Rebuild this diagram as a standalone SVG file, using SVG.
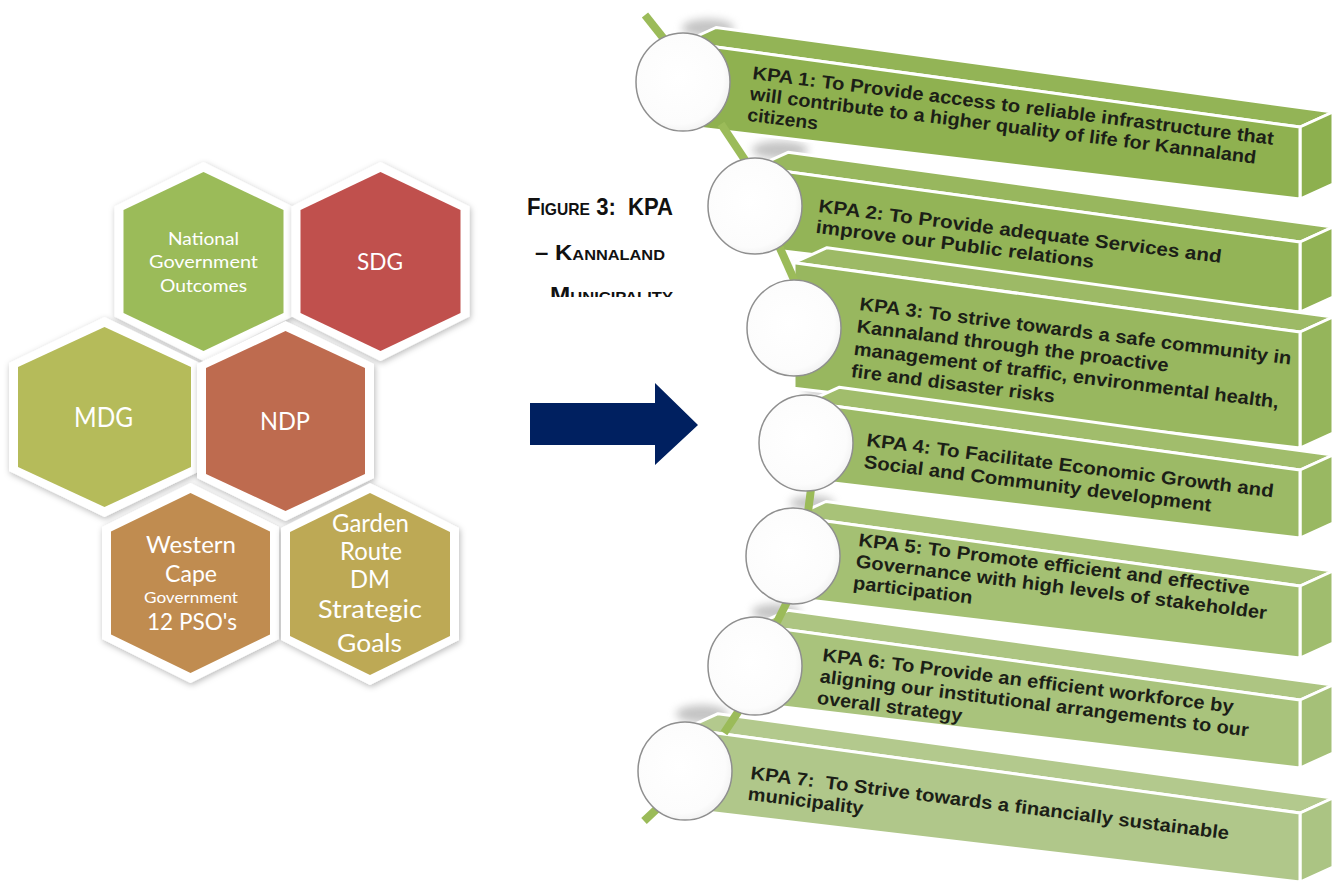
<svg xmlns="http://www.w3.org/2000/svg" width="1337" height="886" viewBox="0 0 1337 886">
<defs>
<style>
.rim{fill:#ffffff;filter:url(#hexShadow)}
.hx{font-family:Lato,"Open Sans",sans-serif;fill:#ffffff;text-anchor:middle}
.cap{font-family:"Liberation Sans",Arial,sans-serif;font-weight:bold;fill:#111111;white-space:pre;font-variant:small-caps}
.kt{font-family:"Liberation Sans",Arial,sans-serif;font-weight:bold;font-size:18.5px;fill:#1c1f17;white-space:pre}
.edge{stroke:#ffffff;stroke-width:3;stroke-linejoin:round}
.link{stroke:#9bbb59;stroke-width:8;fill:none}
.ring{fill:url(#ringGrad);stroke:#8f8f8f;stroke-width:1.5}
.shd{fill:#8a8a8a;opacity:0.5;filter:url(#blur4)}
</style>
<filter id="hexShadow" x="-20%" y="-20%" width="140%" height="140%">
<feDropShadow dx="1" dy="2" stdDeviation="3" flood-color="#000000" flood-opacity="0.28"/>
</filter>
<filter id="blur4" x="-50%" y="-100%" width="200%" height="300%">
<feGaussianBlur stdDeviation="4"/>
</filter>
<radialGradient id="ringGrad" cx="0.45" cy="0.45" r="0.6">
<stop offset="0" stop-color="#ffffff"/>
<stop offset="0.8" stop-color="#fcfcfc"/>
<stop offset="1" stop-color="#efefef"/>
</radialGradient>
<clipPath id="capClip"><rect x="530" y="270" width="170" height="27"/></clipPath>
</defs>
<rect x="0" y="0" width="1337" height="886" fill="#ffffff"/>

<!-- Hexagons -->
<g id="hex-national">
<polygon class="rim" points="203.5,162 292.5,206.5 292.5,316.5 203.5,361 114.5,316.5 114.5,206.5"/>
<polygon fill="#9bbb59" points="203.5,172 283.5,210 283.5,313 203.5,351 123.5,313 123.5,210"/>
<text class="hx" font-size="17.5" x="203.5" y="245" textLength="71" lengthAdjust="spacingAndGlyphs">National</text>
<text class="hx" font-size="17.5" x="203.5" y="268" textLength="109" lengthAdjust="spacingAndGlyphs">Government</text>
<text class="hx" font-size="17.5" x="203.5" y="292" textLength="87" lengthAdjust="spacingAndGlyphs">Outcomes</text>
</g>
<g id="hex-sdg">
<polygon class="rim" points="380.5,162 469.5,206.5 469.5,316.5 380.5,361 291.5,316.5 291.5,206.5"/>
<polygon fill="#c0504d" points="380.5,172 460.5,210 460.5,313 380.5,351 300.5,313 300.5,210"/>
<text class="hx" font-size="24" x="380" y="270" textLength="46" lengthAdjust="spacingAndGlyphs">SDG</text>
</g>
<g id="hex-mdg">
<polygon class="rim" points="104.5,317 200,363 200,471 104.5,517 9,471 9,363"/>
<polygon fill="#b5bb5a" points="104.5,327 191,367 191,467 104.5,507 18,467 18,367"/>
<text class="hx" font-size="26" x="103.5" y="427" textLength="59" lengthAdjust="spacingAndGlyphs">MDG</text>
</g>
<g id="hex-ndp">
<polygon class="rim" points="285.5,321 374,364 374,478 285.5,521 197,478 197,364"/>
<polygon fill="#be6b4f" points="285.5,331 365,368 365,474 285.5,511 206,474 206,368"/>
<text class="hx" font-size="25" x="285" y="430" textLength="50" lengthAdjust="spacingAndGlyphs">NDP</text>
</g>
<g id="hex-western-cape">
<polygon class="rim" points="190.5,483 279,527 279,639 190.5,683 102,639 102,527"/>
<polygon fill="#c08c50" points="190.5,493 270,531.5 270,634.5 190.5,673 111,634.5 111,531.5"/>
<text class="hx" font-size="23" x="191" y="553" textLength="90" lengthAdjust="spacingAndGlyphs">Western</text>
<text class="hx" font-size="23" x="191" y="582" textLength="52" lengthAdjust="spacingAndGlyphs">Cape</text>
<text class="hx" font-size="15" x="191" y="603" textLength="94" lengthAdjust="spacingAndGlyphs">Government</text>
<text class="hx" font-size="23" x="192" y="630" textLength="90" lengthAdjust="spacingAndGlyphs">12 PSO's</text>
</g>
<g id="hex-garden-route">
<polygon class="rim" points="370,483 459,528 459,640 370,685 281,640 281,528"/>
<polygon fill="#bda955" points="370,493 450,532 450,636 370,675 290,636 290,532"/>
<text class="hx" font-size="25" x="370.5" y="532" textLength="77" lengthAdjust="spacingAndGlyphs">Garden</text>
<text class="hx" font-size="25" x="371" y="560" textLength="62" lengthAdjust="spacingAndGlyphs">Route</text>
<text class="hx" font-size="25" x="370" y="588" textLength="40" lengthAdjust="spacingAndGlyphs">DM</text>
<text class="hx" font-size="25" x="370" y="618" textLength="104" lengthAdjust="spacingAndGlyphs">Strategic</text>
<text class="hx" font-size="25" x="369.5" y="652" textLength="65" lengthAdjust="spacingAndGlyphs">Goals</text>
</g>

<!-- Caption -->
<g id="caption">
<text class="cap" x="527" y="215" font-size="24" textLength="146" lengthAdjust="spacingAndGlyphs">Figure 3:  KPA</text>
<text class="cap" x="535" y="260" font-size="22" textLength="130" lengthAdjust="spacingAndGlyphs">– Kannaland</text>
<g clip-path="url(#capClip)">
<text class="cap" x="550" y="302" font-size="22" textLength="123" lengthAdjust="spacingAndGlyphs">Municipality</text>
</g>
</g>

<!-- Arrow -->
<g id="arrow">
<polygon fill="#002060" points="530,403 655,403 655,383 698,425 655,465 655,445 530,445"/>
</g>

<!-- circle shadows -->
<g id="circle-shadows">
<ellipse class="shd" cx="708" cy="28" rx="26" ry="9"/>
<ellipse class="shd" cx="780" cy="150" rx="28" ry="9"/>
<ellipse class="shd" cx="815" cy="272" rx="24" ry="8"/>
<ellipse class="shd" cx="826" cy="389" rx="22" ry="7"/>
<ellipse class="shd" cx="812" cy="503" rx="22" ry="7"/>
<ellipse class="shd" cx="776" cy="612" rx="24" ry="8"/>
<ellipse class="shd" cx="702" cy="714" rx="26" ry="9"/>
</g>

<!-- KPA banners -->
<g id="kpa-1">
<polygon class="edge" fill="#93b456" points="683,42.5 1300,127 1333,112 716,27.5"/>
<polygon class="edge" fill="#8db04f" points="1300,127 1333,112 1333,184 1300,199"/>
<polygon class="edge" fill="#8fb150" points="683,42.5 1300,127 1300,199 683,126.2"/>
<g transform="translate(752,79) rotate(7.2)">
<text class="kt" x="0" y="0" textLength="525" lengthAdjust="spacingAndGlyphs">KPA 1: To Provide access to reliable infrastructure that</text>
<text class="kt" x="0" y="21" textLength="510" lengthAdjust="spacingAndGlyphs">will contribute to a higher quality of life for Kannaland</text>
<text class="kt" x="0" y="42" textLength="71" lengthAdjust="spacingAndGlyphs">citizens</text>
</g>
</g>
<g id="kpa-2">
<polygon class="edge" fill="#98b75e" points="755,167.3 1300,242 1333,227 788,152.3"/>
<polygon class="edge" fill="#91b254" points="1300,242 1333,227 1333,297 1300,312"/>
<polygon class="edge" fill="#93b457" points="755,167.3 1300,242 1300,312 755,247.7"/>
<g transform="translate(818,212) rotate(7.2)">
<text class="kt" x="0" y="0" textLength="406" lengthAdjust="spacingAndGlyphs">KPA 2: To Provide adequate Services and</text>
<text class="kt" x="0" y="21" textLength="280" lengthAdjust="spacingAndGlyphs">improve our Public relations</text>
</g>
</g>
<g id="kpa-3">
<polygon class="edge" fill="#9dba66" points="794,262.7 1300,332 1333,317 827,247.7"/>
<polygon class="edge" fill="#95b55b" points="1300,332 1333,317 1333,433 1300,448"/>
<polygon class="edge" fill="#98b75f" points="794,262.7 1300,332 1300,448 794,388.3"/>
<g transform="translate(859,310) rotate(7.2)">
<text class="kt" x="0" y="0" textLength="435" lengthAdjust="spacingAndGlyphs">KPA 3: To strive towards a safe community in</text>
<text class="kt" x="0" y="22.5" textLength="314" lengthAdjust="spacingAndGlyphs">Kannaland through the proactive</text>
<text class="kt" x="0" y="45" textLength="428" lengthAdjust="spacingAndGlyphs">management of traffic, environmental health,</text>
<text class="kt" x="0" y="67.5" textLength="205" lengthAdjust="spacingAndGlyphs">fire and disaster risks</text>
</g>
</g>
<g id="kpa-4">
<polygon class="edge" fill="#a1bd6c" points="806,402.3 1300,470 1333,455 839,387.3"/>
<polygon class="edge" fill="#99b862" points="1300,470 1333,455 1333,523 1300,538"/>
<polygon class="edge" fill="#9cba66" points="806,402.3 1300,470 1300,538 806,479.7"/>
<g transform="translate(866,446) rotate(7.2)">
<text class="kt" x="0" y="0" textLength="410" lengthAdjust="spacingAndGlyphs">KPA 4: To Facilitate Economic Growth and</text>
<text class="kt" x="0" y="22" textLength="350" lengthAdjust="spacingAndGlyphs">Social and Community development</text>
</g>
</g>
<g id="kpa-5">
<polygon class="edge" fill="#a8c278" points="793,516.5 1300,586 1333,571 826,501.5"/>
<polygon class="edge" fill="#a0bd6e" points="1300,586 1333,571 1333,643 1300,658"/>
<polygon class="edge" fill="#a4c073" points="793,516.5 1300,586 1300,658 793,598.2"/>
<g transform="translate(858,546) rotate(7.2)">
<text class="kt" x="0" y="0" textLength="394" lengthAdjust="spacingAndGlyphs">KPA 5: To Promote efficient and effective</text>
<text class="kt" x="0" y="21.5" textLength="414" lengthAdjust="spacingAndGlyphs">Governance with high levels of stakeholder</text>
<text class="kt" x="0" y="43" textLength="120" lengthAdjust="spacingAndGlyphs">participation</text>
</g>
</g>
<g id="kpa-6">
<polygon class="edge" fill="#adc582" points="755,625.3 1300,700 1333,685 788,610.3"/>
<polygon class="edge" fill="#a5c078" points="1300,700 1333,685 1333,753 1300,768"/>
<polygon class="edge" fill="#a9c37c" points="755,625.3 1300,700 1300,768 755,703.7"/>
<g transform="translate(822,661) rotate(7.2)">
<text class="kt" x="0" y="0" textLength="414" lengthAdjust="spacingAndGlyphs">KPA 6: To Provide an efficient workforce by</text>
<text class="kt" x="0" y="21.5" textLength="432" lengthAdjust="spacingAndGlyphs">aligning our institutional arrangements to our</text>
<text class="kt" x="0" y="43" textLength="146" lengthAdjust="spacingAndGlyphs">overall strategy</text>
</g>
</g>
<g id="kpa-7">
<polygon class="edge" fill="#b3c98d" points="685,728.7 1300,813 1333,798 718,713.7"/>
<polygon class="edge" fill="#abc483" points="1300,813 1333,798 1333,867 1300,882"/>
<polygon class="edge" fill="#b0c78a" points="685,728.7 1300,813 1300,882 685,809.4"/>
<g transform="translate(750,779) rotate(7.2)">
<text class="kt" x="0" y="0" textLength="482" lengthAdjust="spacingAndGlyphs">KPA 7:  To Strive towards a financially sustainable</text>
<text class="kt" x="0" y="21" textLength="116" lengthAdjust="spacingAndGlyphs">municipality</text>
</g>
</g>

<!-- Connectors -->
<g id="connectors">
<line class="link" x1="645" y1="15" x2="668" y2="44"/>
<line class="link" x1="721" y1="124" x2="747" y2="163"/>
<line class="link" x1="779" y1="246" x2="796" y2="284"/>
<line class="link" x1="811" y1="489" x2="808" y2="512"/>
<line class="link" x1="787" y1="602" x2="775" y2="626"/>
<line class="link" x1="740" y1="709" x2="724" y2="733"/>
<line class="link" x1="661" y1="805" x2="644" y2="821"/>
</g>

<!-- Circles -->
<g id="circle-1"><ellipse class="ring" cx="683" cy="82" rx="47" ry="49"/></g>
<g id="circle-2"><ellipse class="ring" cx="755" cy="206" rx="47" ry="48"/></g>
<g id="circle-3"><ellipse class="ring" cx="794" cy="328" rx="47" ry="48"/></g>
<g id="circle-4"><ellipse class="ring" cx="806" cy="443" rx="47" ry="48"/></g>
<g id="circle-5"><ellipse class="ring" cx="793" cy="556" rx="47" ry="48"/></g>
<g id="circle-6"><ellipse class="ring" cx="755" cy="666" rx="47" ry="49"/></g>
<g id="circle-7"><ellipse class="ring" cx="685" cy="771" rx="47" ry="49"/></g>
</svg>
